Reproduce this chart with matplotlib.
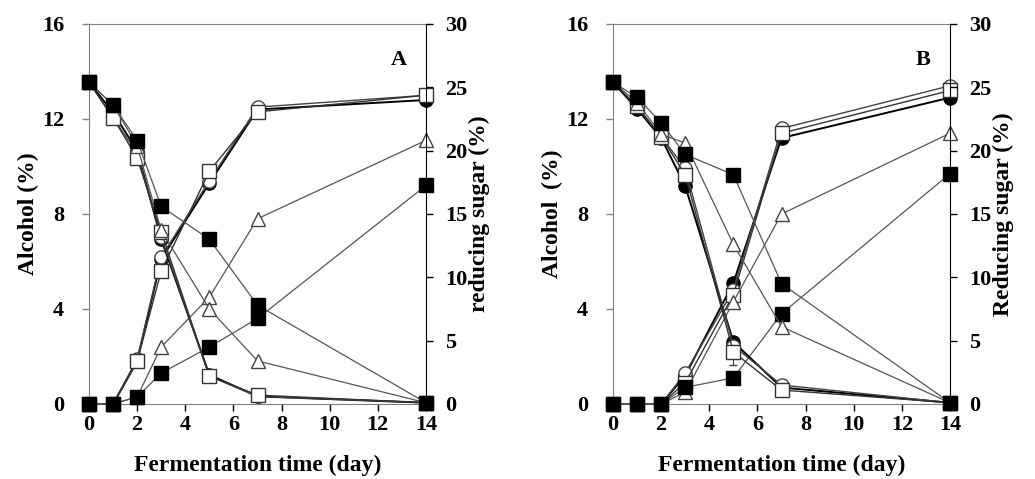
import matplotlib
matplotlib.use("Agg")
import matplotlib.pyplot as plt

plt.rcParams['font.family'] = ['Liberation Serif', 'DejaVu Serif']
plt.rcParams['font.weight'] = 'bold'

days = [0, 1, 2, 3, 5, 7, 14]
series_names = ['filled circle', 'open circle', 'open square', 'open triangle', 'filled square']

# ---------- panel A ----------
alcA_fc = [0, 0, 1.8, 6.1, 9.3, 12.4, 12.8]
alcA_oc = [0, 0, 1.9, 6.2, 9.4, 12.5, 13.0]
alcA_os = [0, 0, 1.8, 5.6, 9.8, 12.3, 13.0]
alcA_ot = [0, 0, 0.3, 2.4, 4.5, 7.8, 11.1]
alcA_fs = [0, 0, 0.3, 1.3, 2.4, 3.6, 9.2]

sugA_fc = [25.4, 23.0, 20.0, 13.0, 2.3, 0.6, 0.1]
sugA_oc = [25.4, 22.6, 19.8, 13.2, 2.2, 0.6, 0.1]
sugA_os = [25.4, 22.6, 19.4, 13.6, 2.2, 0.7, 0.1]
sugA_ot = [25.4, 23.6, 20.4, 13.7, 7.5, 3.4, 0.1]
sugA_fs = [25.4, 23.6, 20.8, 15.6, 13.0, 7.8, 0.1]

# ---------- panel B ----------
alcB_fc = [0, 0, 0, 1.2, 5.1, 11.2, 12.9]
alcB_oc = [0, 0, 0, 1.3, 4.8, 11.6, 13.4]
alcB_os = [0, 0, 0, 0.9, 4.6, 11.4, 13.2]
alcB_ot = [0, 0, 0, 0.5, 4.3, 8.0, 11.4]
alcB_fs = [0, 0, 0, 0.7, 1.1, 3.8, 9.7]

sugB_fc = [25.4, 23.3, 21.0, 17.2, 4.9, 1.3, 0.1]
sugB_oc = [25.4, 23.5, 21.1, 18.6, 4.6, 1.5, 0.1]
sugB_os = [25.4, 23.5, 21.1, 18.1, 4.1, 1.1, 0.1]
sugB_ot = [25.4, 23.8, 21.3, 20.6, 12.6, 6.1, 0.1]
sugB_fs = [25.4, 24.2, 22.2, 19.7, 18.1, 9.5, 0.1]

styles = {
    'filled circle': dict(marker='o', mfc='black', mec='black', color='black', lw=1.4),
    'open circle': dict(marker='o', mfc='white', mec='#444444', color='#444444', lw=1.0),
    'open square': dict(marker='s', mfc='white', mec='#333333', color='#333333', lw=1.0),
    'open triangle': dict(marker='^', mfc='white', mec='#444444', color='#555555', lw=0.9),
    'filled square': dict(marker='s', mfc='black', mec='black', color='#555555', lw=0.9),
}

fig = plt.figure(figsize=(10.35, 4.79), dpi=100)
gray = '#808080'


def panel(rect, alc, sug, letter, ylab, y2lab):
    ax = fig.add_axes(rect)
    ax2 = ax.twinx()
    for name, a, s in zip(series_names, alc, sug):
        st = styles[name]
        ax.plot(days, a, ms=9.5, mew=1, clip_on=False, zorder=3, **st)
        ax2.plot(days, s, ms=9.5, mew=1, clip_on=False, zorder=3, **st)
    ax.set_xlim(0, 14)
    ax.set_ylim(0, 16)
    ax2.set_ylim(0, 30)
    ax.set_xticks(range(0, 15, 2))
    ax.set_yticks([0, 4, 8, 12, 16])
    ax2.set_yticks(range(0, 31, 5))
    for a_ in (ax, ax2):
        a_.tick_params(labelsize=16, length=5, width=1, direction='out')
    ax.tick_params(axis='x', pad=3)
    ax.tick_params(axis='y', pad=13, color=gray)
    ax2.tick_params(axis='y', pad=9)
    for sp in ('left', 'top', 'bottom'):
        ax.spines[sp].set_color(gray)
        ax2.spines[sp].set_visible(False)
    ax.spines['right'].set_visible(False)
    ax2.spines['right'].set_color('black')
    ax.set_xlabel('Fermentation time (day)', fontsize=17, fontweight='bold', labelpad=14)
    ax.set_ylabel(ylab, fontsize=17, fontweight='bold', labelpad=2)
    ax2.set_ylabel(y2lab, fontsize=17, fontweight='bold', labelpad=1)
    ax.text(0.92, 0.905, letter, transform=ax.transAxes, fontsize=16,
            fontweight='bold', ha='center', va='center')
    return ax, ax2


panel([0.086, 0.1566, 0.3256, 0.7933],
      [alcA_fc, alcA_oc, alcA_os, alcA_ot, alcA_fs],
      [sugA_fc, sugA_oc, sugA_os, sugA_ot, sugA_fs],
      'A', 'Alcohol (%)', 'reducing sugar (%)')
axB, axB2 = panel([0.5923, 0.1566, 0.3256, 0.7933],
                  [alcB_fc, alcB_oc, alcB_os, alcB_ot, alcB_fs],
                  [sugB_fc, sugB_oc, sugB_os, sugB_ot, sugB_fs],
                  'B', 'Alcohol  (%)', 'Reducing sugar (%)')
# small error bar on open square, day 5, panel B
axB2.errorbar([5], [sugB_os[4]], yerr=[[1.0], [0]], fmt='none', ecolor='#444444',
              elinewidth=0.8, capsize=3, zorder=2)

fig.savefig('out.png', dpi=100)
